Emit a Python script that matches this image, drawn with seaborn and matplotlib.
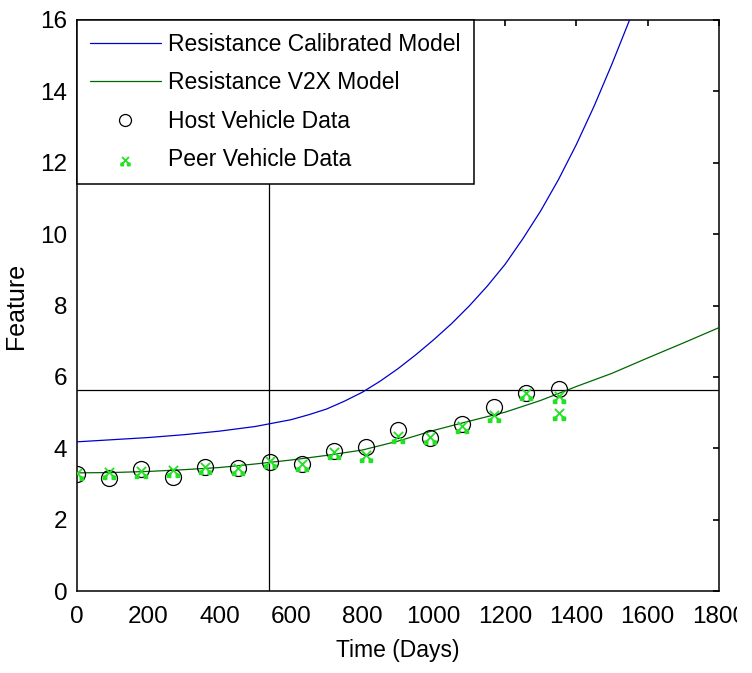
import numpy as np
import pandas as pd
import matplotlib
matplotlib.use("Agg")
import matplotlib.pyplot as plt
from matplotlib.path import Path
import seaborn as sns

# ---- data ----
model_days = [0, 100, 200, 300, 400, 500, 600, 650, 700, 750, 800, 850, 900, 950, 1000, 1050,
              1100, 1150, 1200, 1250, 1300, 1350, 1400, 1450, 1500, 1550, 1560]
calibrated_model = [4.18, 4.24, 4.30, 4.38, 4.48, 4.61, 4.80, 4.94, 5.10, 5.32, 5.57, 5.88, 6.23, 6.62, 7.04, 7.49,
                    7.99, 8.54, 9.15, 9.87, 10.65, 11.53, 12.51, 13.59, 14.77, 16.02, 16.28]

v2x_days = [0, 100, 200, 300, 400, 500, 600, 700, 800, 900, 1000, 1100, 1200, 1300, 1400, 1500, 1600, 1700, 1800]
v2x_model = [3.31, 3.32, 3.35, 3.40, 3.46, 3.56, 3.67, 3.80, 3.95, 4.20, 4.50, 4.76, 5.01, 5.34, 5.73, 6.10, 6.53, 6.95, 7.38]

host_days = [0, 90, 180, 270, 360, 450, 540, 630, 720, 810, 900, 990, 1080, 1170, 1260, 1350]
host_values = [3.28, 3.16, 3.42, 3.20, 3.47, 3.44, 3.62, 3.56, 3.92, 4.03, 4.51, 4.28, 4.67, 5.16, 5.56, 5.65]

peer_days = [0, 90, 180, 270, 360, 450, 540, 630, 720, 810, 900, 990, 1080, 1170, 1260, 1350, 1350]
peer_values = [3.31, 3.34, 3.36, 3.39, 3.47, 3.44, 3.64, 3.56, 3.90, 3.81, 4.34, 4.31, 4.63, 4.93, 5.56, 5.46, 4.98]

crosshair_day = 537
crosshair_value = 5.63

x_ticks = [0, 200, 400, 600, 800, 1000, 1200, 1400, 1600, 1800]
y_ticks = [0, 2, 4, 6, 8, 10, 12, 14, 16]

labels = ["Resistance Calibrated Model", "Resistance V2X Model", "Host Vehicle Data", "Peer Vehicle Data"]

# ---- style ----
sns.set_theme(style="white")
plt.rcParams["font.family"] = ["Liberation Sans", "DejaVu Sans"]
plt.rcParams["text.color"] = "black"
plt.rcParams["axes.labelcolor"] = "black"
tick_family = ["Liberation Sans Narrow", "Liberation Sans", "DejaVu Sans"]

fig = plt.figure(figsize=(7.52, 6.73), dpi=100)
ax = fig.add_axes([77 / 752, 1 - 591 / 673, (719 - 77) / 752, (591 - 20) / 673])

# custom "x with two squares" marker for the peer data
s = 0.32
verts = [(-1, 1), (1, -1), (-1, -1), (1, 1)]
codes = [Path.MOVETO, Path.LINETO, Path.MOVETO, Path.LINETO]
for cx in (-0.95, 0.95):
    cy = -1.15
    verts += [(cx - s, cy - s), (cx + s, cy - s), (cx + s, cy + s), (cx - s, cy + s), (cx - s, cy - s)]
    codes += [Path.MOVETO, Path.LINETO, Path.LINETO, Path.LINETO, Path.CLOSEPOLY]
peer_marker = Path(verts, codes)

# crosshair
ax.axvline(crosshair_day, color="black", lw=0.9, zorder=1)
ax.axhline(crosshair_value, color="black", lw=0.9, zorder=1)

sns.lineplot(x=model_days, y=calibrated_model, ax=ax, color="#0000cc", lw=0.9,
             label=labels[0], estimator=None, zorder=3)
sns.lineplot(x=v2x_days, y=v2x_model, ax=ax, color="#006600", lw=0.9,
             label=labels[1], estimator=None, zorder=3)
ax.plot(host_days, host_values, linestyle="none", marker="o", markersize=11.5,
        markerfacecolor="none", markeredgecolor="black", markeredgewidth=0.9,
        label=labels[2], zorder=4)
sns.scatterplot(x=peer_days, y=peer_values, ax=ax, marker=peer_marker, s=95,
                color="#22e022", edgecolor="#22e022", linewidth=1.3,
                label=labels[3], zorder=5)

ax.set_xlim(0, 1800)
ax.set_ylim(0, 16)
ax.set_xticks(x_ticks)
ax.set_yticks(y_ticks)
ax.set_xlabel("Time (Days)", fontsize=16.5, labelpad=8)
ax.set_ylabel("Feature", fontsize=18, labelpad=9)
ax.tick_params(axis="both", which="both", direction="in", length=4, width=1.2,
               top=True, right=True, colors="black")
ax.tick_params(axis="y", pad=7)
ax.tick_params(axis="x", pad=11)
for lab in ax.get_xticklabels() + ax.get_yticklabels():
    lab.set_fontfamily(tick_family)
    lab.set_fontsize(17.5)
for sp in ax.spines.values():
    sp.set_color("black")
    sp.set_linewidth(1.1)
ax.grid(False)

leg = ax.legend(loc="upper left", borderaxespad=0, fontsize=16.5, frameon=True,
                fancybox=False, framealpha=1, edgecolor="black",
                handlelength=3.1, handletextpad=0.34, labelspacing=0.68,
                borderpad=0.55, markerscale=0.75)
leg.get_frame().set_linewidth(1.1)
leg.set_zorder(10)

# reference image is cut just after the last tick label
fig.patches.append(plt.Rectangle((737 / 752, 0), 1, 1, transform=fig.transFigure,
                                 facecolor="white", edgecolor="none", zorder=100))

fig.savefig("out.png", dpi=100, facecolor="white")
